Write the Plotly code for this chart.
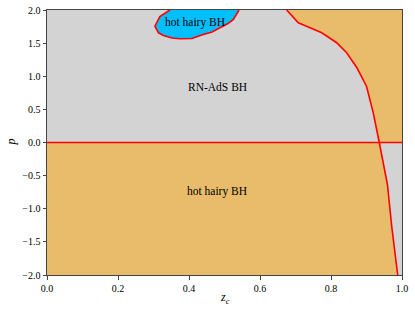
import plotly.graph_objects as go

# Phase boundary curve (z_c, p), from top (p=2) to bottom (p=-2)
curve_z = [0.675, 0.708, 0.774, 0.816, 0.844, 0.873, 0.900, 0.919, 0.936, 0.959, 0.971, 0.988]
curve_p = [2.0, 1.807, 1.656, 1.506, 1.354, 1.128, 0.850, 0.448, 0.0, -0.634, -1.264, -2.0]

# Hot hairy BH island near the top
blob_z = [0.346, 0.318, 0.304, 0.314, 0.328, 0.352, 0.375, 0.408, 0.440, 0.465, 0.487, 0.510, 0.525, 0.532, 0.541]
blob_p = [2.0, 1.90, 1.756, 1.656, 1.615, 1.577, 1.565, 1.570, 1.630, 1.668, 1.731, 1.796, 1.857, 1.917, 2.0]

labels = ["hot hairy BH", "RN-AdS BH", "hot hairy BH"]
label_z = [0.417, 0.48, 0.48]
label_p = [1.81, 0.845, -0.74]

xticks = [0.0, 0.2, 0.4, 0.6, 0.8, 1.0]
yticks = [-2.0, -1.5, -1.0, -0.5, 0.0, 0.5, 1.0, 1.5, 2.0]

GREY = "#d3d3d3"
ORANGE = "#e8bc6a"
BLUE = "#00bfff"
FONT = "Liberation Serif"

i0 = curve_p.index(0.0)
upper_z = curve_z[: i0 + 1]
upper_p = curve_p[: i0 + 1]
lower_z = curve_z[i0:]
lower_p = curve_p[i0:]

fig = go.Figure()
# grey region, upper-left
fig.add_trace(go.Scatter(x=[0, 0] + upper_z + [0], y=[0, 2] + upper_p + [0],
                         fill="toself", fillcolor=GREY, mode="none", hoverinfo="skip"))
# grey region, lower-right
fig.add_trace(go.Scatter(x=lower_z + [1, 1, lower_z[0]], y=lower_p + [-2, 0, lower_p[0]],
                         fill="toself", fillcolor=GREY, mode="none", hoverinfo="skip"))
# blue island
fig.add_trace(go.Scatter(x=blob_z, y=blob_p, fill="toself", fillcolor=BLUE,
                         mode="lines", line=dict(color="red", width=1.6), hoverinfo="skip"))
# boundary lines
fig.add_trace(go.Scatter(x=curve_z, y=curve_p, mode="lines",
                         line=dict(color="red", width=1.6), hoverinfo="skip"))
fig.add_trace(go.Scatter(x=[0, 1], y=[0, 0], mode="lines",
                         line=dict(color="red", width=1.6), hoverinfo="skip"))

for t, x, y in zip(labels, label_z, label_p):
    fig.add_annotation(x=x, y=y, text=t, showarrow=False,
                       font=dict(family=FONT, size=11.5, color="black"))

# axis titles as annotations for precise placement
fig.add_annotation(xref="paper", yref="paper", x=0.5, y=-0.087, yanchor="middle",
                   text="<i>z<sub>c</sub></i>", showarrow=False,
                   font=dict(family=FONT, size=12, color="black"))
fig.add_annotation(xref="paper", yref="paper", x=-0.104, y=0.5, xanchor="center",
                   text="<i>p</i>", textangle=-90, showarrow=False,
                   font=dict(family=FONT, size=12, color="black"))

axis_common = dict(showgrid=False, zeroline=False, showline=True, linecolor="#444",
                   linewidth=1, mirror=True, ticks="outside", ticklen=3.5, tickwidth=0.8,
                   tickcolor="#444", automargin=False,
                   tickfont=dict(family=FONT, size=10, color="black"))

fig.update_layout(
    width=415, height=313,
    margin=dict(l=47, r=13, t=10, b=38),
    paper_bgcolor="white", plot_bgcolor=ORANGE,
    showlegend=False,
    xaxis=dict(range=[0, 1], tickvals=xticks, ticktext=[f"{v:.1f}" for v in xticks],
               **axis_common),
    yaxis=dict(range=[-2, 2], tickvals=yticks,
               ticktext=[f"{v:.1f}".replace("-", "\u2212") for v in yticks],
               **axis_common),
)

fig.write_html("out.html", config={"displayModeBar": False},
               post_script="document.body.style.margin='0';document.body.style.overflow='hidden';")
